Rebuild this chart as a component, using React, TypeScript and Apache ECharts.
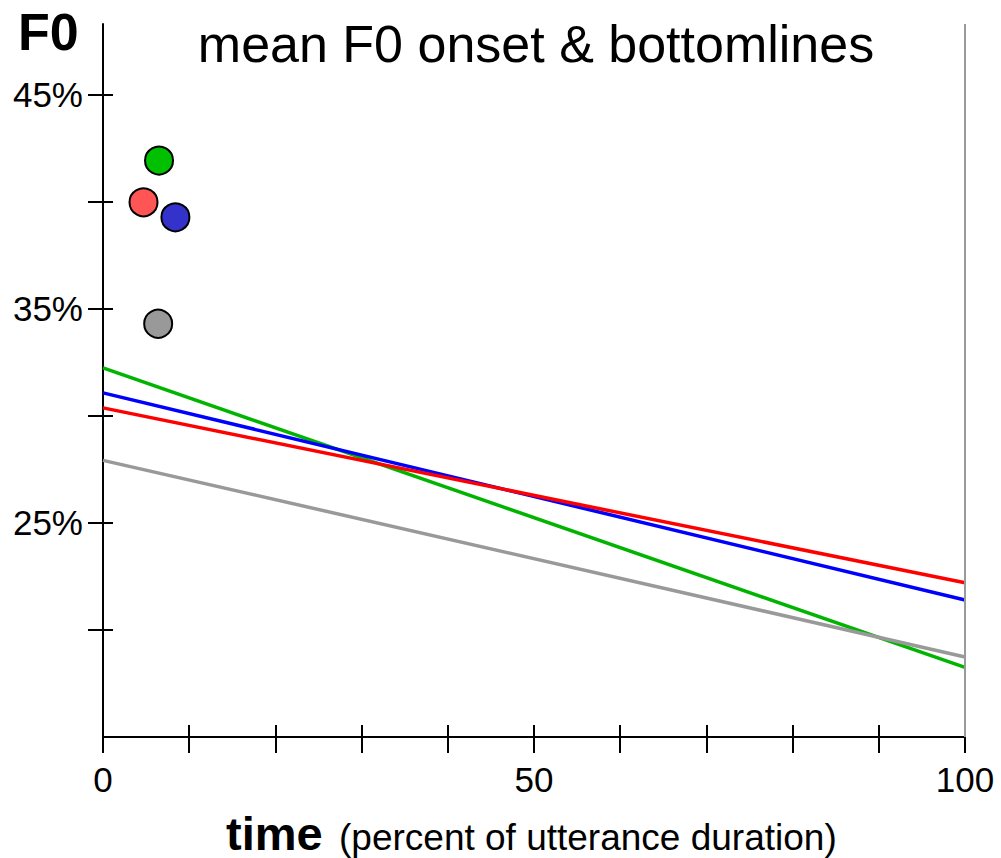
import React, { useEffect, useRef } from "react";
import * as echarts from "echarts";

// ---- data ----
const lineX = [0, 100];
const greenLine = [32.24, 18.25];
const blueLine = [31.07, 21.4];
const redLine = [30.37, 22.2];
const grayLine = [27.92, 18.74];

const onsetX = [6.5, 4.7, 8.4, 6.4];
const onsetY = [41.92, 39.97, 39.27, 34.3];

const xTicks = [0, 10, 20, 30, 40, 50, 60, 70, 80, 90, 100];
const xLabels = [0, 50, 100];
const yTicks = [20, 25, 30, 35, 40, 45];
const yLabels = [25, 35, 45];

// ---- styles ----
const FONT = "'Liberation Sans', Arial, Helvetica, sans-serif";
const lineColors = ["#00b400", "#0000ff", "#ff0000", "#999999"];
const onsetColors = ["#00c000", "#ff5555", "#3333cc", "#999999"];

export default function App() {
  const ref = useRef<HTMLDivElement>(null);

  useEffect(() => {
    if (!ref.current) return;
    const chart = echarts.init(ref.current, null, { renderer: "svg" });

    const lines = [greenLine, blueLine, redLine, grayLine];
    const lineSeries = lines.map((vals, i) => ({
      type: "line",
      xAxisIndex: 0,
      yAxisIndex: 0,
      data: lineX.map((x, j) => [x, vals[j]]),
      symbol: "none",
      lineStyle: { color: lineColors[i], width: 3.5 },
      z: 3,
      ...(i === 0
        ? {
            markLine: {
              silent: true,
              symbol: "none",
              label: { show: false },
              lineStyle: { color: "#9a9a9a", width: 2, type: "solid" },
              data: [{ xAxis: 100 }],
            },
          }
        : {}),
    }));

    const scatter = {
      type: "scatter",
      xAxisIndex: 0,
      yAxisIndex: 0,
      symbolSize: 28,
      z: 5,
      data: onsetX.map((x, i) => ({
        value: [x, onsetY[i]],
        itemStyle: { color: onsetColors[i], borderColor: "#000", borderWidth: 2, opacity: 1 },
      })),
    };

    const baseX = {
      type: "value",
      gridIndex: 0,
      position: "bottom",
      min: 0,
      max: 100,
      interval: 10,
      splitLine: { show: false },
    };
    const baseY = {
      type: "value",
      gridIndex: 0,
      position: "left",
      min: 15,
      max: 48.3,
      interval: 5,
      splitLine: { show: false },
    };

    chart.setOption({
      animation: false,
      backgroundColor: "#ffffff",
      textStyle: { fontFamily: FONT },
      grid: { left: 103, right: 36, top: 24, bottom: 121, containLabel: false, outerBoundsMode: "none" },
      xAxis: [
        {
          ...baseX,
          axisLine: { show: true, lineStyle: { color: "#000", width: 2 } },
          axisTick: { show: true, inside: false, length: 16, customValues: xTicks, lineStyle: { color: "#000", width: 2 } },
          axisLabel: {
            show: true,
            customValues: xLabels,
            fontSize: 35,
            color: "#000",
            fontFamily: FONT,
            margin: 25,
          },
        },
        {
          ...baseX,
          axisLine: { show: false },
          axisTick: { show: true, inside: true, length: 12, customValues: xTicks, lineStyle: { color: "#000", width: 2 } },
          axisLabel: { show: false },
        },
      ],
      yAxis: [
        {
          ...baseY,
          axisLine: { show: true, lineStyle: { color: "#000", width: 2 } },
          axisTick: { show: true, inside: false, length: 15, customValues: yTicks, lineStyle: { color: "#000", width: 2 } },
          axisLabel: {
            show: true,
            customValues: yLabels,
            formatter: "{value}%",
            fontSize: 35,
            color: "#000",
            fontFamily: FONT,
            margin: 20,
          },
        },
        {
          ...baseY,
          axisLine: { show: false },
          axisTick: { show: true, inside: true, length: 10, customValues: yTicks, lineStyle: { color: "#000", width: 2 } },
          axisLabel: { show: false },
        },
      ],
      graphic: [
        {
          type: "text",
          x: 536,
          y: 44,
          style: {
            text: "mean F0 onset & bottomlines",
            fontSize: 52,
            fontFamily: FONT,
            fill: "#000",
            align: "center",
            verticalAlign: "middle",
          },
        },
        {
          type: "text",
          x: 18,
          y: 32,
          style: {
            text: "F0",
            fontSize: 52,
            fontWeight: "bold",
            fontFamily: FONT,
            fill: "#000",
            align: "left",
            verticalAlign: "middle",
          },
        },
        {
          type: "text",
          x: 226,
          y: 833,
          style: {
            text: "time",
            fontSize: 47,
            fontWeight: "bold",
            fontFamily: FONT,
            fill: "#000",
            align: "left",
            verticalAlign: "middle",
          },
        },
        {
          type: "text",
          x: 339,
          y: 837,
          style: {
            text: "(percent of utterance duration)",
            fontSize: 37,
            fontFamily: FONT,
            fill: "#000",
            align: "left",
            verticalAlign: "middle",
          },
        },
      ],
      series: [...lineSeries, scatter],
    });

    return () => chart.dispose();
  }, []);

  return (
    <div
      ref={ref}
      style={{ position: "fixed", left: 0, top: 0, width: 1001, height: 858, background: "#fff" }}
    />
  );
}
